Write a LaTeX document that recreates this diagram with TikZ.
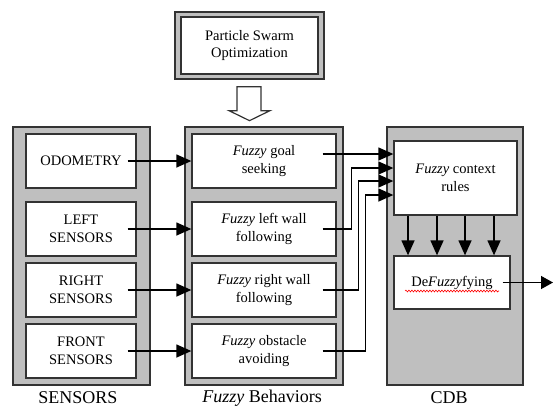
\documentclass[tikz,border=0pt]{standalone}
\usepackage{fontspec}
\setmainfont{Liberation Serif}
\usetikzlibrary{arrows.meta,calc,decorations.pathmorphing}
\begin{document}
\begin{tikzpicture}[x=1pt,y=-1pt,
  frame/.style={draw=black!80, fill=black!25, line width=1.3pt, inner sep=0pt},
  inbox/.style={draw=black!80, fill=white, line width=1.3pt, align=center,
    inner sep=0pt, font=\fontsize{14.5}{17.5}\selectfont},
  lbl/.style={font=\fontsize{18}{20}\selectfont, inner sep=0pt},
  arr/.style={-{Triangle[length=15pt,width=13pt]}, line width=1.3pt},
  sarr/.style={-{Triangle[length=12pt,width=13pt]}, line width=1.3pt},
  hollow/.style={draw=black!80, fill=white, line width=1.2pt}]
\useasboundingbox (0,0) rectangle (553,407);

% Particle Swarm Optimization
\node[frame, minimum width=149pt, minimum height=67pt] (psoF) at (249.5,45.5) {};
\node[inbox, minimum width=137pt, minimum height=57pt] (pso) at (249.5,45.5) {Particle Swarm\\Optimization};

% frames
\node[frame, minimum width=137pt, minimum height=258pt] (sensF) at (81.5,256) {};
\node[frame, minimum width=158pt, minimum height=258pt] (behF) at (264,256) {};
\node[frame, minimum width=136pt, minimum height=258pt] (cdbF) at (455,256) {};

% hollow arrow
\coordinate (ha) at ($(psoF.south)+(0,7)$);
\draw[hollow] ($(ha)+(-12.5,0)$) -- ($(ha)+(11.5,0)$) -- ($(ha)+(11.5,24)$)
  -- ($(ha)+(20.5,24)$) -- ($(ha)+(0,34)$) -- ($(ha)+(-20.5,24)$)
  -- ($(ha)+(-12.5,24)$) -- cycle;

% sensors
\node[inbox, minimum width=110pt, minimum height=54pt] (s1) at (81,161) {ODOMETRY};
\node[inbox, minimum width=110pt, minimum height=54pt] (s2) at (81,229) {LEFT\\SENSORS};
\node[inbox, minimum width=110pt, minimum height=54pt] (s3) at (81,290) {RIGHT\\SENSORS};
\node[inbox, minimum width=110pt, minimum height=54pt] (s4) at (81,351) {FRONT\\SENSORS};

% behaviors
\node[inbox, minimum width=144pt, minimum height=54pt] (b1) at (264,161) {\textit{Fuzzy} goal\\seeking};
\node[inbox, minimum width=144pt, minimum height=54pt] (b2) at (264,229) {\textit{Fuzzy} left wall\\following};
\node[inbox, minimum width=144pt, minimum height=54pt] (b3) at (264,290) {\textit{Fuzzy} right wall\\following};
\node[inbox, minimum width=144pt, minimum height=54pt] (b4) at (264,351) {\textit{Fuzzy} obstacle\\avoiding};

% CDB
\node[inbox, minimum width=123pt, minimum height=74pt] (ctx) at (455.5,178) {\textit{Fuzzy} context\\rules};
\node[inbox, minimum width=116pt, minimum height=53pt] (defz) at (452,282.5) {De\textit{Fuzzy}fying};
\draw[red, line width=0.6pt, decorate, decoration={snake, amplitude=0.9pt, segment length=3pt}]
  ($(defz.center)+(-47,8.5)$) -- ($(defz.center)+(47,8.5)$);

% labels
\node[lbl] (lsens) at (78,398) {SENSORS};
\node[lbl] (lbeh) at (262,398) {\textit{Fuzzy} Behaviors};
\node[lbl] (lcdb) at (449,398) {CDB};

% sensor -> behavior
\foreach \i in {1,2,3,4} {
  \draw[arr] ($(s\i.east)+(-9,0)$) -- (b\i.west);
}

% behavior -> context
\coordinate (c1) at ($(b1.east)+(-14,-7)$);
\coordinate (c2) at ($(b2.east)+(-14,0)$);
\coordinate (c3) at ($(b3.east)+(-14,0)$);
\coordinate (c4) at ($(b4.east)+(-14,0)$);
\draw[arr] (c1) -- (c1 -| ctx.west);
\draw[arr] (c2) -- ++(29,0) |- ($(ctx.west)+(0,-10)$);
\draw[arr] (c3) -- ++(36,0) |- ($(ctx.west)+(0,3)$);
\draw[arr] (c4) -- ++(43,0) |- ($(ctx.west)+(0,17)$);

% context -> defuzzy
\foreach \dx [count=\k] in {-47.5,-18.5,9.5,38.5} {
  \coordinate (d\k) at ($(ctx.south)+(\dx,0)$);
  \draw[arr] (d\k) -- (d\k |- defz.north);
}

% output
\coordinate (out) at (553,282.5);
\draw[sarr] ($(defz.east)+(-8,0)$) -- (out);
\end{tikzpicture}
\end{document}
